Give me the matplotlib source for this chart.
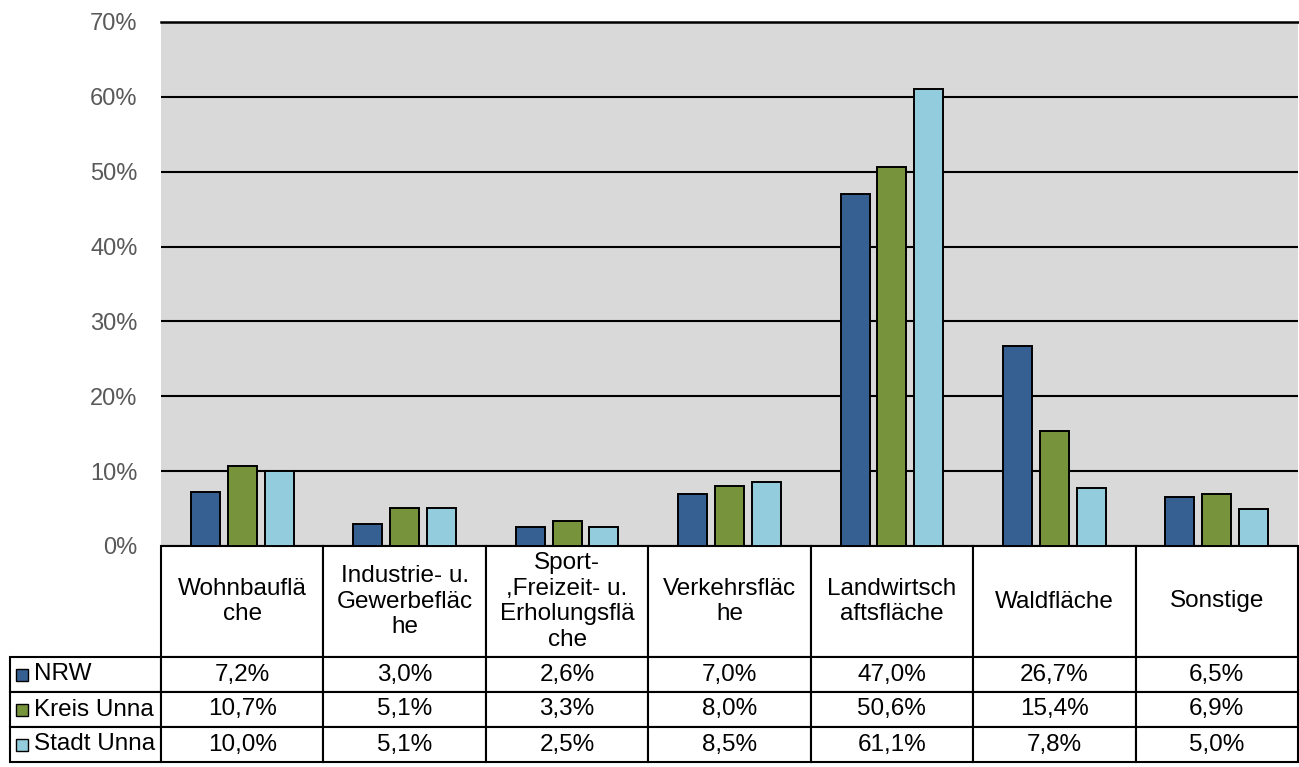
import matplotlib.pyplot as plt

plt.rcParams["font.family"] = ["Liberation Sans", "DejaVu Sans"]

categories = ["Wohnbauflä\nche", "Industrie- u.\nGewerbefläc\nhe",
              "Sport-\n,Freizeit- u.\nErholungsflä\nche", "Verkehrsfläc\nhe",
              "Landwirtsch\naftsfläche", "Waldfläche", "Sonstige"]
series = ["NRW", "Kreis Unna", "Stadt Unna"]
nrw = [7.2, 3.0, 2.6, 7.0, 47.0, 26.7, 6.5]
kreis_unna = [10.7, 5.1, 3.3, 8.0, 50.6, 15.4, 6.9]
stadt_unna = [10.0, 5.1, 2.5, 8.5, 61.1, 7.8, 5.0]
yticks = [0, 10, 20, 30, 40, 50, 60, 70]

colors = ["#376092", "#77933C", "#93CDDD"]
values = [nrw, kreis_unna, stadt_unna]

W, H = 1299, 767
fig = plt.figure(figsize=(W / 100, H / 100), dpi=100)
ax_l, ax_r, ax_t, ax_b = 161, 1298, 22, 546
ax = fig.add_axes([ax_l / W, 1 - ax_b / H, (ax_r - ax_l) / W, (ax_b - ax_t) / H])
ax.set_facecolor("#D9D9D9")

x = list(range(len(categories)))
bw, step = 0.178, 0.227
for k, (name, vals, c) in enumerate(zip(series, values, colors)):
    ax.bar([i + (k - 1) * step for i in x], vals, width=bw, color=c,
           edgecolor="black", linewidth=1.4, zorder=3)

ax.set_xlim(-0.5, len(categories) - 0.5)
ax.set_ylim(0, 70)
ax.set_yticks(yticks)
ax.set_yticklabels([f"{t}%" for t in yticks])
ax.set_xticks([])
ax.tick_params(axis="y", length=0, pad=17, labelsize=17, labelcolor="#595959")
ax.yaxis.grid(True, color="black", linewidth=1.5, zorder=1)
for s in ["left", "right", "bottom"]:
    ax.spines[s].set_visible(False)
ax.spines["top"].set_linewidth(1.8)

# data table under the plot
cell_text = [[""] + categories]
for name, vals in zip(series, values):
    cell_text.append([name] + [f"{v:.1f}%".replace(".", ",") for v in vals])

tab_l, tab_r, tab_b = 10, 1298, 762
axw, axh = ax_r - ax_l, ax_b - ax_t
lab_w = ax_l - tab_l
col_w = (tab_r - ax_l) / len(categories)
tbl = ax.table(cellText=cell_text, cellLoc="center",
               colWidths=[lab_w] + [col_w] * len(categories),
               bbox=[(tab_l - ax_l) / axw, -(tab_b - ax_b) / axh,
                     (tab_r - tab_l) / axw, (tab_b - ax_b) / axh])
tbl.auto_set_font_size(False)
tbl.set_fontsize(17.5)
for (r, c), cell in tbl.get_celld().items():
    cell.set_linewidth(1.5)
    cell.set_edgecolor("black")
    cell.set_height(111 if r == 0 else 35)
    cell.get_text().set_linespacing(1.22)
    if r == 0 and c == 0:
        cell.visible_edges = ""
    if r > 0 and c == 0:
        cell.get_text().set_ha("left")
        cell._loc = "left"
        cell.PAD = 24 / lab_w

# legend keys in row labels
for k, c in enumerate(colors):
    yc = 657 + 35 * k + 17.5
    ax.plot([(21.5 - ax_l) / axw], [-(yc - ax_b) / axh], marker="s", markersize=8,
            markerfacecolor=c, markeredgecolor="black", markeredgewidth=1.0,
            transform=ax.transAxes, clip_on=False, zorder=5)

fig.savefig("out.png", dpi=100)
